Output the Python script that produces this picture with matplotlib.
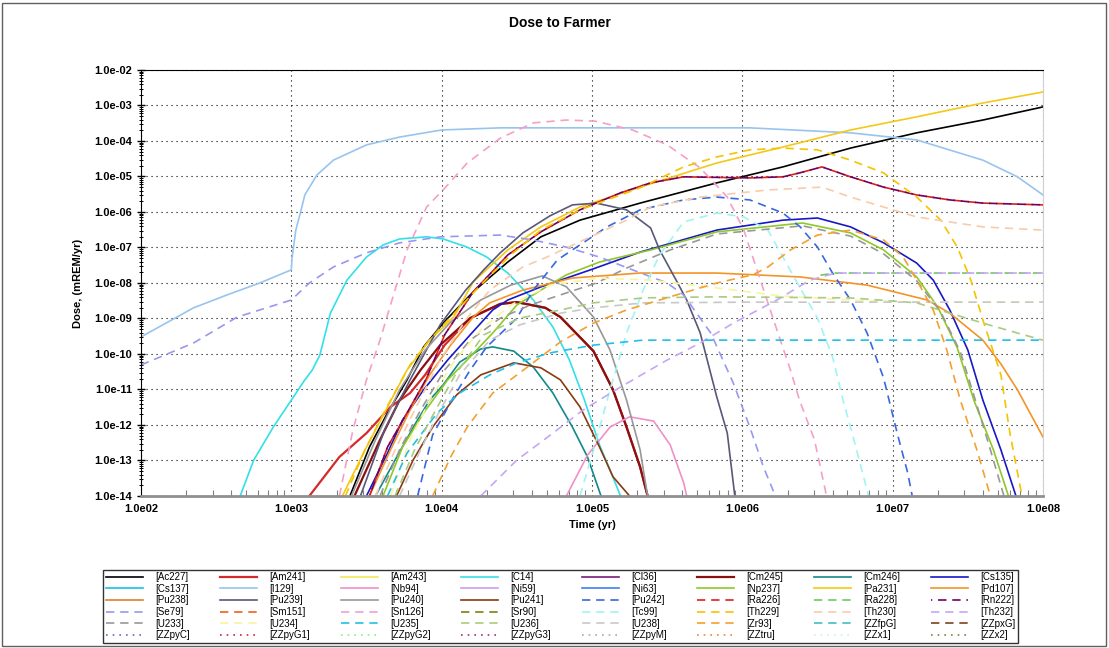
import matplotlib
matplotlib.use("Agg")
import matplotlib.pyplot as plt
import numpy as np
from matplotlib.ticker import FixedLocator, FuncFormatter, LogLocator, NullFormatter
from matplotlib.patches import Rectangle

plt.rcParams['font.family'] = ['Liberation Sans', 'DejaVu Sans']

# values are log10(time, yr) and log10(dose, mREM/yr)
ac227_t = [3.39, 3.52, 3.64, 3.77, 3.88, 4.01, 4.21, 4.34, 4.44, 4.66, 4.92, 5.32, 5.83, 6.27, 6.72, 7.16, 7.60, 8.00]
ac227_d = [-14.0, -12.62, -11.66, -10.73, -9.80, -9.13, -8.25, -7.77, -7.41, -6.70, -6.23, -5.75, -5.18, -4.73, -4.20, -3.77, -3.41, -3.04]

am241_t = [3.12, 3.32, 3.50, 3.66, 3.79, 3.89, 4.02, 4.19, 4.39, 4.50, 4.69, 4.79, 5.01, 5.14, 5.23, 5.32, 5.37]
am241_d = [-14.0, -12.90, -12.23, -11.49, -11.10, -10.59, -9.75, -8.99, -8.59, -8.54, -8.70, -8.96, -9.92, -11.01, -12.06, -13.18, -14.0]

c14_t = [2.66, 2.75, 2.88, 3.00, 3.09, 3.14, 3.19, 3.26, 3.37, 3.50, 3.61, 3.72, 3.90, 4.01, 4.17, 4.30, 4.44, 4.61, 4.74, 4.85, 4.95, 5.05, 5.12, 5.19]
c14_d = [-14.0, -12.99, -12.06, -11.30, -10.73, -10.45, -10.03, -8.85, -7.92, -7.27, -6.93, -6.76, -6.70, -6.76, -6.99, -7.27, -7.72, -8.48, -9.24, -10.17, -11.30, -12.56, -13.27, -14.0]

cm245_t = [3.42, 3.59, 3.72, 3.86, 3.99, 4.19, 4.39, 4.50, 4.69, 4.79, 5.01, 5.14, 5.23, 5.32, 5.37]
cm245_d = [-14.0, -12.42, -11.30, -10.45, -9.75, -8.99, -8.59, -8.54, -8.70, -8.96, -9.92, -11.01, -12.06, -13.18, -14.0]

cm246_t = [3.56, 3.69, 3.82, 3.92, 4.01, 4.12, 4.26, 4.34, 4.48, 4.61, 4.74, 4.87, 4.97, 5.06]
cm246_d = [-14.0, -12.99, -12.00, -11.30, -10.87, -10.23, -9.86, -9.80, -9.92, -10.37, -11.10, -12.06, -12.90, -14.0]

cs135_t = [3.50, 3.64, 3.74, 3.88, 4.04, 4.19, 4.34, 4.44, 4.66, 4.99, 5.32, 5.83, 6.27, 6.50, 6.72, 6.94, 7.16, 7.27, 7.38, 7.50, 7.60, 7.72, 7.82]
cs135_d = [-14.0, -12.79, -11.86, -11.01, -10.17, -9.46, -8.76, -8.48, -8.11, -7.63, -7.13, -6.51, -6.23, -6.17, -6.42, -6.87, -7.44, -7.92, -8.76, -9.89, -11.30, -12.70, -14.0]

i129_t = [2.00, 2.35, 2.57, 2.79, 3.00, 3.005, 3.03, 3.06, 3.09, 3.17, 3.28, 3.50, 3.72, 4.00, 4.39, 6.05, 6.72, 7.16, 7.60, 7.83, 8.00]
i129_d = [-9.52, -8.70, -8.34, -8.00, -7.63, -7.30, -6.51, -6.03, -5.52, -4.96, -4.54, -4.11, -3.89, -3.69, -3.63, -3.63, -3.77, -3.97, -4.54, -5.01, -5.52]

nb94_t = [4.83, 4.97, 5.12, 5.25, 5.41, 5.52, 5.61, 5.63]
nb94_d = [-14.0, -12.85, -12.06, -11.77, -11.89, -12.56, -13.63, -14.0]

np237_t = [3.61, 3.74, 3.88, 4.04, 4.19, 4.34, 4.50, 4.66, 4.83, 5.05, 5.39, 5.83, 6.40, 6.72, 6.94, 7.16, 7.30, 7.43, 7.54, 7.67, 7.77]
np237_d = [-14.0, -12.62, -11.66, -10.73, -10.08, -9.41, -8.62, -8.20, -7.77, -7.41, -7.07, -6.56, -6.31, -6.59, -7.07, -7.83, -8.68, -9.83, -11.30, -12.70, -14.0]

pa231_t = [3.34, 3.48, 3.64, 3.77, 3.92, 4.08, 4.21, 4.44, 4.66, 4.92, 5.32, 5.83, 6.27, 6.72, 7.16, 7.60, 8.00]
pa231_d = [-14.0, -12.79, -11.49, -10.45, -9.61, -8.96, -7.97, -7.07, -6.42, -5.86, -5.30, -4.62, -4.17, -3.69, -3.32, -2.93, -2.62]

pd107_t = [3.52, 3.66, 3.79, 3.92, 4.06, 4.21, 4.32, 4.54, 4.87, 5.32, 5.83, 6.385, 6.83, 7.23, 7.38, 7.60, 7.72, 7.83, 8.00]
pd107_d = [-14.0, -12.70, -11.58, -10.59, -9.75, -8.96, -8.56, -8.20, -7.86, -7.72, -7.72, -7.83, -8.06, -8.48, -8.85, -9.61, -10.28, -11.01, -12.34]

pu239_t = [3.46, 3.62, 3.79, 3.99, 4.16, 4.28, 4.39, 4.54, 4.72, 4.87, 5.03, 5.23, 5.39, 5.45, 5.57, 5.63, 5.72, 5.83, 5.90, 5.95]
pu239_d = [-14.0, -12.14, -10.73, -9.18, -8.20, -7.63, -7.15, -6.59, -6.11, -5.80, -5.75, -5.94, -6.45, -7.07, -8.00, -8.48, -9.41, -11.21, -12.23, -14.0]

pu240_t = [3.40, 3.56, 3.72, 3.89, 4.06, 4.26, 4.46, 4.67, 4.83, 5.01, 5.12, 5.23, 5.32, 5.37]
pu240_d = [-14.0, -12.42, -11.01, -9.89, -9.10, -8.48, -8.06, -7.80, -8.11, -8.96, -9.89, -11.30, -12.70, -14.0]

pu241_t = [3.70, 3.81, 3.94, 4.10, 4.26, 4.48, 4.66, 4.79, 4.92, 5.05, 5.14, 5.25]
pu241_d = [-14.0, -12.99, -12.06, -11.15, -10.59, -10.25, -10.39, -10.73, -11.49, -12.62, -13.46, -14.0]

pu242_t = [3.84, 3.94, 4.08, 4.19, 4.30, 4.50, 4.61, 4.77, 4.94, 5.10, 5.32, 5.61, 5.83, 6.05, 6.27, 6.385, 6.50, 6.60, 6.72, 6.83, 6.94, 7.03, 7.10, 7.13]
pu242_d = [-14.0, -12.28, -11.21, -10.45, -9.80, -8.99, -8.20, -7.35, -6.87, -6.42, -5.94, -5.66, -5.58, -5.66, -6.03, -6.42, -6.99, -7.72, -8.48, -9.41, -10.68, -12.23, -13.35, -14.0]

ra226_t = [3.52, 3.64, 3.77, 3.90, 4.02, 4.21, 4.44, 4.66, 4.92, 5.19, 5.39, 5.61, 6.05, 6.27, 6.38, 6.53, 6.72, 6.94, 7.16, 7.38, 7.60, 8.00]
ra226_d = [-14.0, -12.62, -11.66, -10.68, -9.46, -8.25, -7.21, -6.56, -5.94, -5.46, -5.18, -5.01, -5.04, -5.01, -4.90, -4.73, -5.01, -5.30, -5.52, -5.66, -5.75, -5.80]

ra228_t = [6.52, 6.62, 8.00]
ra228_d = [-7.78, -7.72, -7.72]

rn222_t = [3.52, 3.64, 3.77, 3.90, 4.02, 4.21, 4.44, 4.66, 4.92, 5.19, 5.39, 5.61, 6.05, 6.27, 6.38, 6.53, 6.72, 6.94, 7.16, 7.38, 7.60, 8.00]
rn222_d = [-14.0, -12.62, -11.66, -10.68, -9.46, -8.25, -7.21, -6.56, -5.94, -5.46, -5.18, -5.01, -5.04, -5.01, -4.90, -4.73, -5.01, -5.30, -5.52, -5.66, -5.75, -5.80]

se79_t = [2.00, 2.35, 2.64, 3.00, 3.12, 3.28, 3.50, 3.72, 3.99, 4.39, 4.61, 4.83, 5.05, 5.27, 5.50, 5.61, 5.79, 5.94, 6.05, 6.14, 6.22]
se79_d = [-10.31, -9.69, -8.96, -8.48, -8.00, -7.55, -7.15, -6.87, -6.70, -6.65, -6.79, -6.99, -7.27, -7.63, -8.00, -8.34, -9.41, -10.82, -12.06, -13.18, -14.0]

sn126_t = [3.32, 3.41, 3.50, 3.59, 3.66, 3.77, 3.90, 4.01, 4.17, 4.39, 4.61, 4.83, 5.02, 5.27, 5.50, 5.72, 5.90, 6.01, 6.12, 6.23, 6.32, 6.38, 6.48, 6.56]
sn126_d = [-14.0, -12.14, -10.73, -9.61, -8.62, -7.07, -5.86, -5.38, -4.62, -3.92, -3.49, -3.41, -3.44, -3.69, -4.11, -4.76, -5.58, -6.51, -7.92, -9.32, -10.45, -11.30, -12.42, -14.0]

tc99_t = [4.92, 5.01, 5.12, 5.23, 5.34, 5.45, 5.61, 5.83, 6.01, 6.17, 6.27, 6.38, 6.50, 6.60, 6.67, 6.76, 6.84]
tc99_d = [-14.0, -12.70, -11.01, -9.41, -8.20, -7.21, -6.28, -6.03, -6.14, -6.51, -7.27, -8.11, -8.99, -10.08, -11.30, -12.70, -14.0]

th229_t = [3.36, 3.49, 3.66, 3.79, 3.92, 4.09, 4.26, 4.46, 4.66, 4.92, 5.32, 5.61, 5.83, 6.05, 6.27, 6.50, 6.72, 6.94, 7.16, 7.32, 7.43, 7.52, 7.60, 7.72, 7.78, 7.86]
th229_d = [-14.0, -12.70, -11.30, -10.31, -9.61, -8.82, -8.06, -7.21, -6.51, -5.94, -5.32, -4.73, -4.45, -4.25, -4.20, -4.25, -4.54, -4.90, -5.58, -6.23, -6.99, -7.92, -9.04, -10.59, -12.23, -14.0]

th230_t = [3.56, 3.69, 3.82, 3.99, 4.16, 4.32, 4.54, 4.70, 4.99, 5.23, 5.39, 5.72, 6.17, 6.53, 6.72, 6.94, 7.16, 7.60, 8.00]
th230_d = [-14.0, -12.70, -11.58, -10.17, -9.04, -8.20, -7.55, -7.27, -6.70, -6.23, -5.86, -5.58, -5.38, -5.30, -5.58, -5.86, -6.14, -6.42, -6.51]

th232_t = [4.26, 4.50, 4.74, 4.94, 5.19, 5.50, 5.72, 5.94, 6.23, 6.45, 6.62, 8.00]
th232_d = [-14.0, -12.99, -12.23, -11.58, -10.93, -10.17, -9.69, -9.13, -8.48, -7.92, -7.72, -7.72]

u233_t = [3.59, 3.72, 3.86, 4.02, 4.19, 4.39, 4.59, 4.83, 5.03, 5.23, 5.52, 5.83, 6.40, 6.72, 6.94, 7.16, 7.32, 7.45, 7.55, 7.65, 7.74]
u233_d = [-14.0, -12.70, -11.58, -10.45, -9.61, -8.99, -8.62, -8.28, -8.00, -7.58, -7.07, -6.62, -6.39, -6.68, -7.18, -7.94, -8.82, -9.94, -11.30, -12.70, -14.0]

u234_t = [3.66, 3.79, 3.92, 4.09, 4.26, 4.46, 4.72, 5.05, 5.39, 5.83, 6.27, 6.72, 7.16, 8.00]
u234_d = [-14.0, -12.42, -11.30, -10.17, -9.32, -8.62, -8.06, -7.86, -7.92, -8.14, -8.37, -8.48, -8.54, -8.54]

u235_t = [3.64, 3.77, 3.97, 4.12, 4.32, 4.50, 4.72, 5.01, 5.34, 8.00]
u235_d = [-14.0, -12.79, -11.66, -11.10, -10.59, -10.25, -9.97, -9.75, -9.61, -9.61]

u236_t = [3.69, 3.82, 3.96, 4.09, 4.28, 4.52, 4.79, 5.01, 5.34, 5.83, 6.72, 7.16, 7.38, 7.60, 7.83, 8.00]
u236_d = [-14.0, -12.70, -11.58, -10.59, -9.46, -8.99, -8.76, -8.56, -8.42, -8.39, -8.42, -8.56, -8.85, -9.13, -9.41, -9.61]

u238_t = [3.72, 3.86, 3.99, 4.12, 4.32, 4.52, 4.79, 5.01, 5.34, 6.05, 8.00]
u238_d = [-14.0, -12.70, -11.58, -10.59, -9.61, -9.18, -8.85, -8.70, -8.56, -8.54, -8.54]

zr93_t = [3.94, 4.06, 4.17, 4.34, 4.57, 4.79, 5.01, 5.23, 5.52, 5.83, 6.07, 6.17, 6.32, 6.50, 6.72, 6.94, 7.07, 7.16, 7.27, 7.36, 7.45, 7.56, 7.65]
zr93_d = [-14.0, -12.90, -12.06, -11.10, -10.37, -9.66, -9.13, -8.76, -8.39, -8.00, -7.77, -7.55, -7.07, -6.65, -6.51, -6.79, -7.27, -7.92, -8.76, -9.89, -11.30, -12.70, -14.0]

none_t = []
none_d = []

# label, time, dose, colour, style  (legend order, alphabetical)
series = [
    ("Ac227", ac227_t, ac227_d, "#000000", "-"),
    ("Am241", am241_t, am241_d, "#d42a2a", "-"),
    ("Am243", none_t, none_d, "#f2e85a", "-"),
    ("C14", c14_t, c14_d, "#33e0e8", "-"),
    ("Cl36", none_t, none_d, "#7a1a7a", "-"),
    ("Cm245", cm245_t, cm245_d, "#8b1010", "-"),
    ("Cm246", cm246_t, cm246_d, "#108a88", "-"),
    ("Cs135", cs135_t, cs135_d, "#1818c8", "-"),
    ("Cs137", none_t, none_d, "#18c0e8", "-"),
    ("I129", i129_t, i129_d, "#98c4ee", "-"),
    ("Nb94", nb94_t, nb94_d, "#f090c8", "-"),
    ("Ni59", none_t, none_d, "#c8a0f0", "-"),
    ("Ni63", none_t, none_d, "#4080f0", "-"),
    ("Np237", np237_t, np237_d, "#90c828", "-"),
    ("Pa231", pa231_t, pa231_d, "#f4c818", "-"),
    ("Pd107", pd107_t, pd107_d, "#f49428", "-"),
    ("Pu238", none_t, none_d, "#e08030", "-"),
    ("Pu239", pu239_t, pu239_d, "#58587a", "-"),
    ("Pu240", pu240_t, pu240_d, "#989898", "-"),
    ("Pu241", pu241_t, pu241_d, "#8a3a10", "-"),
    ("Pu242", pu242_t, pu242_d, "#3868e0", "--"),
    ("Ra226", ra226_t, ra226_d, "#d82020", "--"),
    ("Ra228", ra228_t, ra228_d, "#70c860", "--"),
    ("Rn222", rn222_t, rn222_d, "#700060", "-."),
    ("Se79", se79_t, se79_d, "#9898f0", "--"),
    ("Sm151", none_t, none_d, "#f06018", "--"),
    ("Sn126", sn126_t, sn126_d, "#f4a0c8", "--"),
    ("Sr90", none_t, none_d, "#808010", "--"),
    ("Tc99", tc99_t, tc99_d, "#a0f4f4", "--"),
    ("Th229", th229_t, th229_d, "#f4c400", "--"),
    ("Th230", th230_t, th230_d, "#f8cca8", "--"),
    ("Th232", th232_t, th232_d, "#c4a8f4", "--"),
    ("U233", u233_t, u233_d, "#989898", "--"),
    ("U234", u234_t, u234_d, "#f8f4a0", "--"),
    ("U235", u235_t, u235_d, "#20c0e8", "--"),
    ("U236", u236_t, u236_d, "#a8cc80", "--"),
    ("U238", u238_t, u238_d, "#c8c8c8", "--"),
    ("Zr93", zr93_t, zr93_d, "#f4a030", "--"),
    ("ZZfpG", none_t, none_d, "#40c0c0", "--"),
    ("ZZpxG", none_t, none_d, "#804020", "--"),
    ("ZZpyC", none_t, none_d, "#6868c0", ":"),
    ("ZZpyG1", none_t, none_d, "#d02040", ":"),
    ("ZZpyG2", none_t, none_d, "#88f088", ":"),
    ("ZZpyG3", none_t, none_d, "#a03080", ":"),
    ("ZZpyM", none_t, none_d, "#a8a8a8", ":"),
    ("ZZtru", none_t, none_d, "#f08040", ":"),
    ("ZZx1", none_t, none_d, "#c8f0f0", ":"),
    ("ZZx2", none_t, none_d, "#808040", ":"),
]

# "-." is the dash pattern shifted by half a period, so Rn222 fills the gaps of Ra226
styles = {"-": "-", "--": (0, (5, 3.5)), "-.": (4.25, (5, 3.5)), ":": (0, (1, 3))}

fig = plt.figure(figsize=(11.09, 6.48), dpi=100)
fig.patches.append(Rectangle((0.002, 0.003), 0.995, 0.993, transform=fig.transFigure,
                             fill=False, edgecolor="#606060", linewidth=1.0))
ax = fig.add_axes([0.1271, 0.2346, 0.8134, 0.6574])

handles = {}
for name, t, d, col, ls in series:
    lw = 1.6 if name in ("Am241", "Cm245") else 1.2
    line, = ax.plot(10 ** np.array(t, dtype=float), 10 ** np.array(d, dtype=float),
                    color=col, linestyle=styles[ls], linewidth=lw, label="[%s]" % name)
    handles[name] = line

ax.set_xscale("log")
ax.set_yscale("log")
ax.set_xlim(1e2, 1e8)
ax.set_ylim(1e-14, 1e-2)

ax.xaxis.set_major_locator(FixedLocator(10.0 ** np.arange(2, 9)))
ax.yaxis.set_major_locator(FixedLocator(10.0 ** np.arange(-14, -1)))
ax.xaxis.set_minor_locator(LogLocator(base=10, subs=np.arange(2, 10), numticks=20))
ax.yaxis.set_minor_locator(LogLocator(base=10, subs=np.arange(2, 10), numticks=30))
ax.xaxis.set_minor_formatter(NullFormatter())
ax.yaxis.set_minor_formatter(NullFormatter())
ax.xaxis.set_major_formatter(FuncFormatter(lambda v, p: "1.0e%02d" % round(np.log10(v))))
ax.yaxis.set_major_formatter(FuncFormatter(lambda v, p: "1.0e-%02d" % round(-np.log10(v))))

ax.grid(True, which="major", color="#000000", linestyle=(0, (1, 3.5)), linewidth=0.8)
ax.tick_params(axis="y", which="major", direction="inout", length=6, width=1, labelsize=8)
ax.tick_params(axis="y", which="minor", direction="inout", length=3, width=0.7)
ax.tick_params(axis="x", which="major", direction="in", length=0, labelsize=8, pad=6,
               color="#808080")
ax.tick_params(axis="x", which="minor", direction="in", length=4, width=0.8, color="#808080")
for lab in ax.get_xticklabels() + ax.get_yticklabels():
    lab.set_fontweight("bold")

ax.spines["top"].set_color("#000000")
ax.spines["left"].set_color("#000000")
ax.spines["bottom"].set_color("#909090")
ax.spines["bottom"].set_linewidth(2)
ax.spines["right"].set_color("#d0d0d0")

ax.set_xlabel("Time (yr)", fontsize=8, fontweight="bold", labelpad=4)
ax.set_ylabel("Dose, (mREM/yr)", fontsize=8, fontweight="bold", labelpad=8)
fig.suptitle("Dose to Farmer", x=0.505, y=0.975, fontsize=10, fontweight="bold")

# legend reads row by row; matplotlib fills column by column
names = [s[0] for s in series]
ncol = 8
nrow = len(names) // ncol
order = [names[r * ncol + c] for c in range(ncol) for r in range(nrow)]
leg = fig.legend([handles[n] for n in order], ["[%s]" % n for n in order],
                 loc="lower left", bbox_to_anchor=(0.093, 0.008, 0.825, 0.108),
                 mode="expand", ncol=ncol, fontsize=7, frameon=True, fancybox=False,
                 borderaxespad=0, handlelength=3.8, handletextpad=1.3,
                 labelspacing=0.17, borderpad=0.25, columnspacing=1.0)
leg.get_frame().set_edgecolor("#000000")
leg.get_frame().set_linewidth(1.0)

fig.savefig("out.png", dpi=100)
